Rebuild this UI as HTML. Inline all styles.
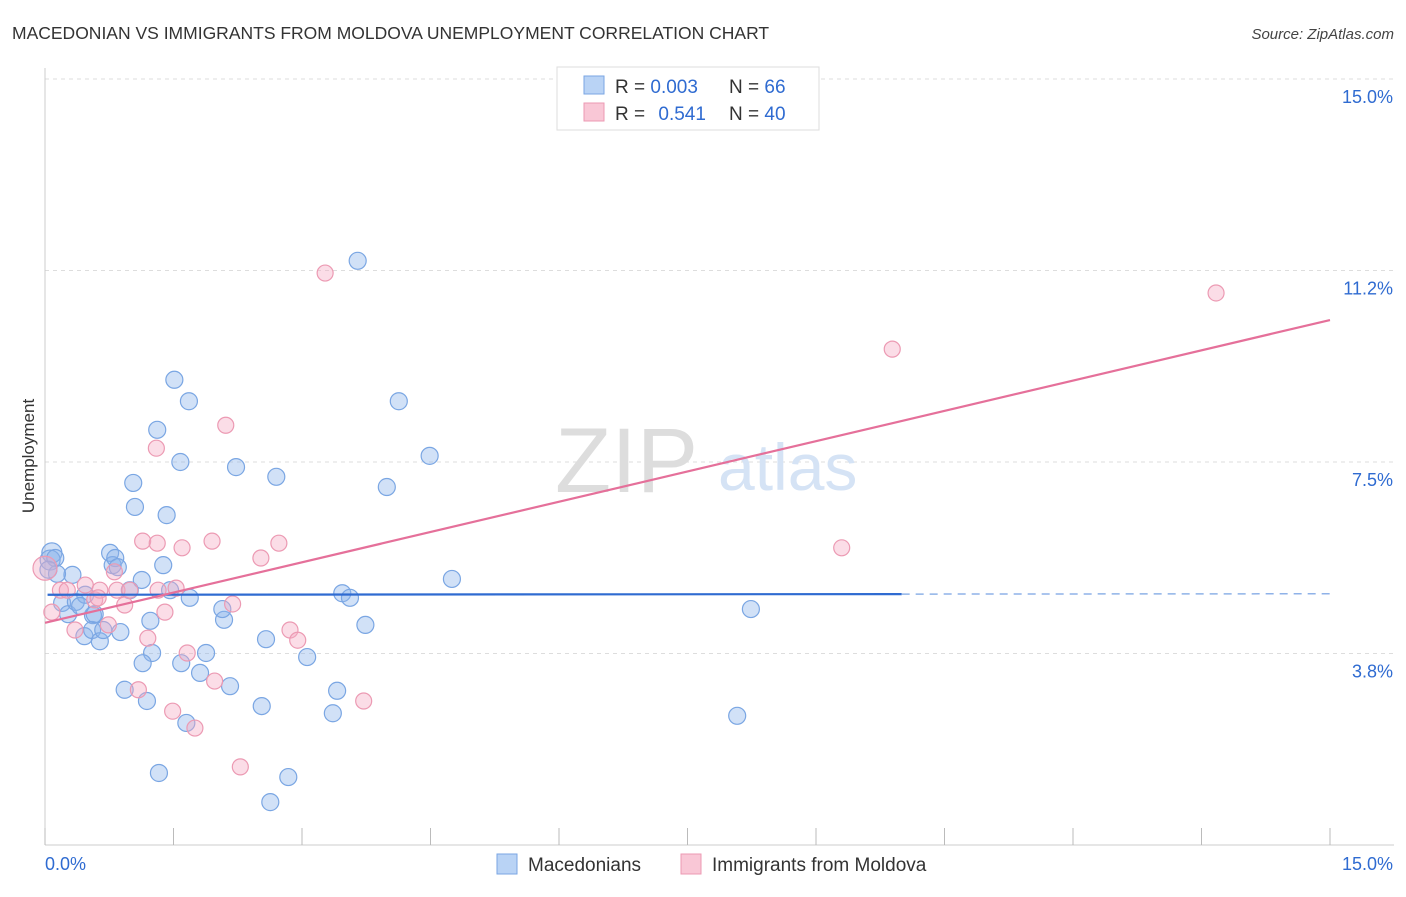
<!DOCTYPE html>
<html><head><meta charset="utf-8"><style>
body{margin:0;background:#fff;font-family:"Liberation Sans",sans-serif;}
svg text{font-family:"Liberation Sans",sans-serif;}
</style></head><body>
<svg id="chart" width="1406" height="892" xmlns="http://www.w3.org/2000/svg">
<text x="12" y="39" font-size="17.5" fill="#333">MACEDONIAN VS IMMIGRANTS FROM MOLDOVA UNEMPLOYMENT CORRELATION CHART</text>
<text x="1394" y="39" font-size="15" fill="#444" text-anchor="end" font-style="italic">Source: ZipAtlas.com</text>
<text x="34" y="456" font-size="17" fill="#333" text-anchor="middle" transform="rotate(-90 34 456)">Unemployment</text>
<g id="grid"></g>
<g id="ticks"></g>
<text x="555" y="492" font-size="92" fill="#ddd" font-family="Liberation Serif">ZIP</text>
<text x="718" y="490" font-size="66" fill="#d5e3f5">atlas</text>
<g id="pts"></g>
<g id="lines"></g>
<g>
<rect x="557" y="67" width="262" height="63" fill="#fff" stroke="#ddd"/>
<rect x="584" y="76" width="20" height="18" fill="#b9d3f5" stroke="#7aa6e3"/>
<rect x="584" y="103" width="20" height="18" fill="#f9c7d6" stroke="#ec9ab3"/>
<text x="615" y="93" font-size="19" fill="#333">R = <tspan fill="#2f6bd1">0.003</tspan><tspan x="729">N = </tspan><tspan fill="#2f6bd1">66</tspan></text>
<text x="615" y="120" font-size="19" fill="#333">R = <tspan fill="#2f6bd1" dx="8">0.541</tspan><tspan x="729">N = </tspan><tspan fill="#2f6bd1">40</tspan></text>
</g>
<g>
<rect x="497" y="854" width="20" height="20" fill="#b9d3f5" stroke="#7aa6e3"/>
<text x="528" y="871" font-size="19" fill="#333">Macedonians</text>
<rect x="681" y="854" width="20" height="20" fill="#f9c7d6" stroke="#ec9ab3"/>
<text x="712" y="871" font-size="19" fill="#333">Immigrants from Moldova</text>
</g>
</svg>
<script>
const yTicks=[3.75,7.5,11.25,15];
const yTickLabels=["3.8%","7.5%","11.2%","15.0%"];
const xTicks=[0,1.5,3,4.5,6,7.5,9,10.5,12,13.5,15];
const blueX=[0.08,0.06,0.12,0.32,0.20,0.27,0.36,0.47,0.56,0.46,0.55,0.64,0.68,0.88,0.76,0.79,0.82,0.85,0.99,1.13,1.03,1.05,1.31,1.51,1.68,1.58,1.42,1.38,1.46,1.69,1.23,1.25,1.14,0.93,1.19,1.59,1.81,1.88,2.09,2.07,2.16,1.65,1.33,2.23,2.70,2.58,2.53,2.63,2.84,3.06,3.36,3.41,3.47,3.56,3.74,3.65,3.99,4.13,4.49,4.75,8.24,8.08,0.14,0.41,0.58,0.04];
const blueY=[5.72,5.58,5.62,5.29,4.74,4.52,4.76,4.90,4.50,4.09,4.21,3.99,4.21,4.17,5.72,5.48,5.62,5.44,4.99,5.19,7.09,6.62,8.13,9.11,8.69,7.50,6.46,5.48,4.99,4.84,4.39,3.76,3.56,3.04,2.82,3.56,3.37,3.76,4.41,4.62,3.11,2.39,1.41,7.40,7.21,4.03,2.72,0.84,1.33,3.68,2.58,3.02,4.93,4.84,4.31,11.44,7.01,8.69,7.62,5.21,4.62,2.53,5.31,4.68,4.52,5.39];
const pinkX=[0.00,0.08,0.18,0.26,0.35,0.47,0.58,0.64,0.74,0.84,0.81,0.93,0.99,1.14,1.20,1.09,1.31,1.30,1.32,1.40,1.53,1.60,1.66,1.49,1.75,1.95,1.98,2.11,2.19,2.28,2.52,2.73,2.86,2.95,3.27,3.72,9.30,9.89,13.67,0.62];
const pinkY=[5.42,4.56,4.99,4.99,4.21,5.09,4.80,4.99,4.31,4.99,5.35,4.70,4.99,5.95,4.05,3.04,5.91,7.77,4.99,4.56,5.03,5.82,3.76,2.62,2.29,5.95,3.21,8.22,4.72,1.53,5.62,5.91,4.21,4.01,11.20,2.82,5.82,9.71,10.81,4.84];
const blueLine=[4.90,4.92];
const pinkLine=[4.35,10.28];
const X=v=>45+v/15*1285, Y=v=>845-v/3.75*191.5;
const NS="http://www.w3.org/2000/svg";
function mk(t,a,p){const e=document.createElementNS(NS,t);for(const k in a)e.setAttribute(k,a[k]);p.appendChild(e);return e;}
const svg=document.getElementById('chart'),grid=document.getElementById('grid'),ticks=document.getElementById('ticks'),pts=document.getElementById('pts'),lines=document.getElementById('lines');
yTicks.forEach((v,i)=>{const l=mk('line',{x1:45,x2:1394,y1:Y(v),y2:Y(v),stroke:'#ddd','stroke-dasharray':'4,4'},grid);


const t=mk('text',{x:1393,y:Y(v)+24,'font-size':18,fill:'#2f6bd1','text-anchor':'end'},ticks);t.textContent=yTickLabels[i];

});
const ax=mk('line',{x1:45,x2:1394,y1:845,y2:845,stroke:'#ccc'},ticks);


const ay=mk('line',{x1:45,x2:45,y1:68,y2:845,stroke:'#ccc'},ticks);


xTicks.forEach(v=>{const l=mk('line',{x1:X(v),x2:X(v),y1:828,y2:845,stroke:'#bbb'},ticks);

});
[[0,'0.0%','start',45],[15,'15.0%','end',1393]].forEach(d=>{const t=mk('text',{x:d[3],y:870,'font-size':18,fill:'#2f6bd1','text-anchor':d[2]},ticks);t.textContent=d[1];

});
blueX.forEach((v,i)=>{const c=mk('circle',{cx:X(v),cy:Y(blueY[i]),r:i<2?10:8.5,fill:'rgba(140,180,235,0.4)',stroke:'#7aa6e3','stroke-width':1.2},pts);

});
pinkX.forEach((v,i)=>{const c=mk('circle',{cx:X(v),cy:Y(pinkY[i]),r:i==0?12:8,fill:'rgba(245,170,195,0.4)',stroke:'#ec9ab3','stroke-width':1.2},pts);

});
const bl=mk('line',{x1:X(0.03),y1:Y(blueLine[0]),x2:X(10),y2:Y(blueLine[0]+(blueLine[1]-blueLine[0])*10/15),stroke:'#2f6bd1','stroke-width':2.2},lines);


const bd=mk('line',{x1:X(10),y1:Y(blueLine[0]+(blueLine[1]-blueLine[0])*10/15),x2:X(15),y2:Y(blueLine[1]),stroke:'#8fb2e8','stroke-width':1.5,'stroke-dasharray':'8,6'},lines);


const pl=mk('line',{x1:X(0),y1:Y(pinkLine[0]),x2:X(15),y2:Y(pinkLine[1]),stroke:'#e5709a','stroke-width':2.2},lines);


</script>
</body></html>
